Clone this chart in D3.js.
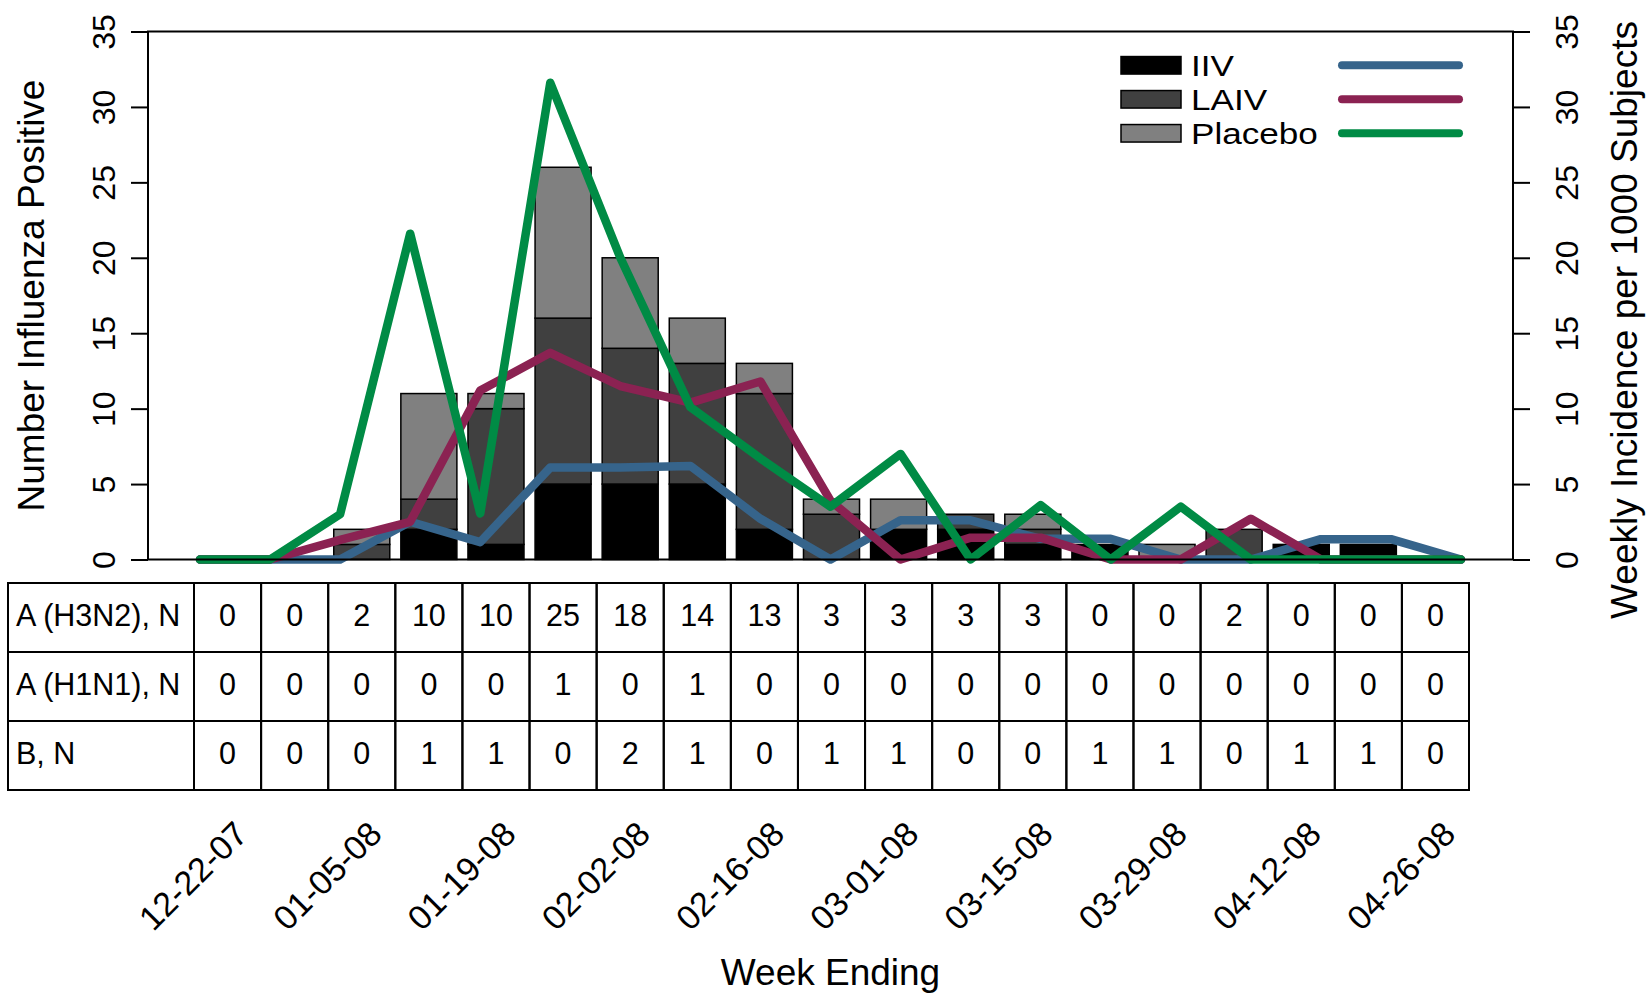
<!DOCTYPE html>
<html>
<head>
<meta charset="utf-8">
<script src="https://cdn.jsdelivr.net/npm/d3@7"></script>
<style>
  html, body { margin: 0; padding: 0; background: #fff; }
  svg { display: block; font-family: "Liberation Sans", Arial, Helvetica, sans-serif; }
</style>
</head>
<body>
<script>
// ---- data -------------------------------------------------------------
const weeks = ["12-22-07","12-29-07","01-05-08","01-12-08","01-19-08","01-26-08","02-02-08",
               "02-09-08","02-16-08","02-23-08","03-01-08","03-08-08","03-15-08","03-22-08",
               "03-29-08","04-05-08","04-12-08","04-19-08","04-26-08"];
const weekTickLabels = ["12-22-07","01-05-08","01-19-08","02-02-08","02-16-08",
                        "03-01-08","03-15-08","03-29-08","04-12-08","04-26-08"];

// number influenza positive per arm (stacked bars)
const iivCases     = [0,0,0,2,1,5,5,5,2,0,2,2,1,1,0,0,1,1,0];
const laivCases    = [0,0,1,2,9,11,9,8,9,3,0,1,1,0,0,2,0,0,0];
const placeboCases = [0,0,1,7,1,10,6,3,2,1,2,0,1,0,1,0,0,0,0];

// weekly incidence per 1000 subjects per arm (lines)
const iivIncidence     = [0,0,0,2.5,1.15,6.1,6.1,6.2,2.7,0,2.6,2.6,1.37,1.37,0,0,1.35,1.35,0];
const laivIncidence    = [0,0,1.3,2.5,11.2,13.7,11.5,10.4,11.8,3.9,0,1.45,1.45,0,0,2.7,0,0,0];
const placeboIncidence = [0,0,3.0,21.6,3.05,31.6,20.0,10.1,6.7,3.5,7.0,0,3.6,0,3.5,0,0,0,0];

// subtype counts shown in the table under the chart
const h3n2Counts = [0,0,2,10,10,25,18,14,13,3,3,3,3,0,0,2,0,0,0];
const h1n1Counts = [0,0,0,0,0,1,0,1,0,0,0,0,0,0,0,0,0,0,0];
const fluBCounts = [0,0,0,1,1,0,2,1,0,1,1,0,0,1,1,0,1,1,0];

const yTicks = [0,5,10,15,20,25,30,35];
const armNames = ["IIV","LAIV","Placebo"];

// ---- layout -----------------------------------------------------------
const W = 1648, H = 996;
const plot  = { left: 148, right: 1513, top: 31.5, bottom: 559.5 };
const table = { left: 8, labelRight: 194, right: 1469, top: 583, rowH: 69 };
const font = '"Liberation Sans", Arial, Helvetica, sans-serif';

const barFill   = { IIV: "#000000", LAIV: "#404040", Placebo: "#808080" };
const lineColor = { IIV: "#36648B", LAIV: "#8B2252", Placebo: "#008B45" };

const svg = d3.select("body").append("svg")
  .attr("width", W).attr("height", H)
  .attr("viewBox", `0 0 ${W} ${H}`);

const y = d3.scaleLinear().domain([0, 35]).range([plot.bottom, plot.top]);
const idx = d3.range(weeks.length);
const xCell = d3.scaleBand().domain(idx).range([table.labelRight, table.right]);
const xBar  = d3.scaleBand().domain(idx).range([table.labelRight, table.right])
  .paddingInner(0.165).paddingOuter(0.0825);
const xLine = d3.scalePoint().domain(idx).range([200, 1461]);

// ---- stacked bars -----------------------------------------------------
const barRows = idx.map(i => ({ i, IIV: iivCases[i], LAIV: laivCases[i], Placebo: placeboCases[i] }));
const stacked = d3.stack().keys(armNames)(barRows);

svg.append("g").selectAll("g").data(stacked).join("g")
  .attr("fill", d => barFill[d.key])
  .selectAll("rect").data(d => d.filter(s => s[1] > s[0])).join("rect")
  .attr("x", d => xBar(d.data.i))
  .attr("width", xBar.bandwidth())
  .attr("y", d => y(d[1]))
  .attr("height", d => y(d[0]) - y(d[1]))
  .attr("stroke", "#000").attr("stroke-width", 1.5);

// ---- incidence lines --------------------------------------------------
const incidence = [["IIV", iivIncidence], ["LAIV", laivIncidence], ["Placebo", placeboIncidence]];
const line = d3.line().x((d, i) => xLine(i)).y(d => y(d));

svg.append("g").selectAll("path").data(incidence).join("path")
  .attr("d", d => line(d[1]))
  .attr("fill", "none")
  .attr("stroke", d => lineColor[d[0]])
  .attr("stroke-width", 8.5)
  .attr("stroke-linejoin", "round")
  .attr("stroke-linecap", "round");

// ---- frame and axes ---------------------------------------------------
svg.append("rect")
  .attr("x", plot.left).attr("y", plot.top)
  .attr("width", plot.right - plot.left).attr("height", plot.bottom - plot.top)
  .attr("fill", "none").attr("stroke", "#000").attr("stroke-width", 2);

function styleAxis(g, baselineOffset) {
  g.attr("font-family", font);
  g.select(".domain").remove();
  g.selectAll(".tick line").attr("stroke", "#000").attr("stroke-width", 2);
  g.selectAll(".tick text")
    .attr("fill", "#000").attr("font-size", 32)
    .attr("transform", "rotate(-90)")
    .attr("x", 0).attr("y", baselineOffset).attr("dy", 0)
    .attr("text-anchor", "middle");
}

svg.append("g").attr("transform", `translate(${plot.left},0)`)
  .call(d3.axisLeft(y).tickValues(yTicks).tickSize(17).tickSizeOuter(0))
  .call(g => styleAxis(g, -33));

svg.append("g").attr("transform", `translate(${plot.right},0)`)
  .call(d3.axisRight(y).tickValues(yTicks).tickSize(17).tickSizeOuter(0))
  .call(g => styleAxis(g, 64.5));

svg.append("text")
  .attr("transform", `translate(44,${(plot.top + plot.bottom) / 2}) rotate(-90)`)
  .attr("text-anchor", "middle").attr("font-size", 37).attr("font-family", font)
  .text("Number Influenza Positive");

svg.append("text")
  .attr("transform", `translate(1637,320) rotate(-90)`)
  .attr("text-anchor", "middle").attr("font-size", 37).attr("font-family", font)
  .text("Weekly Incidence per 1000 Subjects");

// ---- legend -----------------------------------------------------------
const legend = svg.append("g").attr("font-family", font);
armNames.forEach((name, k) => {
  const cy = 65.3 + k * 34;
  legend.append("rect")
    .attr("x", 1121).attr("y", cy - 8.75).attr("width", 60).attr("height", 17.5)
    .attr("fill", barFill[name]).attr("stroke", "#000").attr("stroke-width", 1.5);
  // slightly widened glyphs keep the rows tight without collisions
  legend.append("text")
    .attr("transform", `translate(1191,${cy + 10.5}) scale(1.17,1)`)
    .attr("font-size", 30).text(name);
  legend.append("line")
    .attr("x1", 1342).attr("x2", 1459).attr("y1", cy).attr("y2", cy)
    .attr("stroke", lineColor[name]).attr("stroke-width", 8).attr("stroke-linecap", "round");
});

// ---- subtype table ----------------------------------------------------
const tableRows = [["A (H3N2), N", h3n2Counts], ["A (H1N1), N", h1n1Counts], ["B, N", fluBCounts]];
const tg = svg.append("g").attr("font-family", font).attr("font-size", 30.5);

tableRows.forEach(([label, counts], r) => {
  const top = table.top + r * table.rowH;
  tg.append("rect")
    .attr("x", table.left).attr("y", top)
    .attr("width", table.labelRight - table.left).attr("height", table.rowH)
    .attr("fill", "none").attr("stroke", "#000").attr("stroke-width", 2);
  tg.append("text").attr("x", table.left + 8).attr("y", top + 43).text(label);
  tg.selectAll(null).data(counts).join("rect")
    .attr("x", (d, i) => xCell(i)).attr("y", top)
    .attr("width", xCell.bandwidth()).attr("height", table.rowH)
    .attr("fill", "none").attr("stroke", "#000").attr("stroke-width", 2);
  tg.selectAll(null).data(counts).join("text")
    .attr("x", (d, i) => xCell(i) + xCell.bandwidth() / 2).attr("y", top + 43)
    .attr("text-anchor", "middle").text(d => d);
});

// ---- week-ending labels -----------------------------------------------
const labelIdx = weekTickLabels.map(w => weeks.indexOf(w));
svg.append("g").attr("font-family", font).attr("font-size", 34)
  .selectAll("text").data(labelIdx).join("text")
  .attr("transform", i => `translate(${xBar(i) + xBar.bandwidth() / 2 + 22},836) rotate(-45)`)
  .attr("text-anchor", "end")
  .text(i => weeks[i]);

svg.append("text")
  .attr("x", (plot.left + plot.right) / 2).attr("y", 985)
  .attr("text-anchor", "middle").attr("font-size", 37).attr("font-family", font)
  .text("Week Ending");
</script>
</body>
</html>
